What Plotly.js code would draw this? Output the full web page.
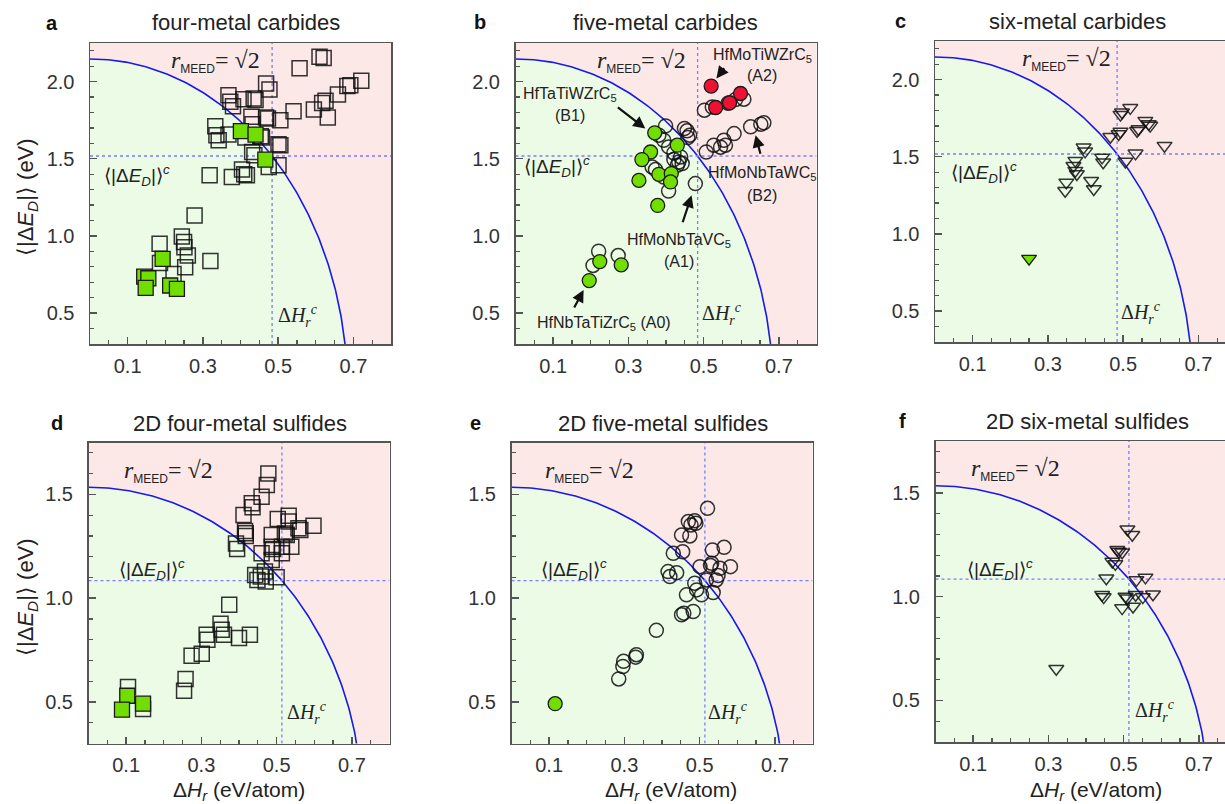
<!DOCTYPE html>
<html><head><meta charset="utf-8">
<script src="https://cdn.plot.ly/plotly-3.0.1.min.js"></script>
<style>html,body{margin:0;padding:0;overflow:hidden;background:#fff}</style>
</head><body><div id="chart" style="width:1240px;height:804px"></div>
<script>
// ---------- thresholds ----------
const carbideXc = 0.484, carbideYc = 1.518;
const sulfideXc = 0.514, sulfideYc = 1.085;
const rMEED = Math.SQRT2;

// ---------- panel titles ----------
const panelLetters = ['a','b','c','d','e','f'];
const panelTitles = ['four-metal carbides','five-metal carbides','six-metal carbides',
  '2D four-metal sulfides','2D five-metal sulfides','2D six-metal sulfides'];

// ---------- panel a : four-metal carbides (squares) ----------
const aOpenX = [0.610,0.621,0.557,0.468,0.477,0.368,0.373,0.380,0.408,0.435,0.440,0.429,0.432,0.468,0.473,0.506,0.541,0.595,0.617,0.626,0.632,0.659,0.684,0.692,0.721,0.333,0.336,0.342,0.368,0.413,0.454,0.457,0.431,0.437,0.501,0.506,0.501,0.475,0.318,0.377,0.404,0.410,0.417,0.278,0.185,0.186,0.244,0.250,0.251,0.260,0.222,0.253,0.320];
const aOpenY = [2.161,2.153,2.086,1.988,1.949,1.912,1.869,1.841,1.886,1.891,1.880,1.772,1.724,1.767,1.761,1.750,1.808,1.819,1.862,1.876,1.767,1.917,1.971,1.977,2.005,1.711,1.653,1.620,1.657,1.637,1.646,1.637,1.544,1.523,1.594,1.588,1.458,1.447,1.393,1.382,1.430,1.399,1.393,1.133,0.949,0.824,0.997,0.960,0.927,0.873,0.754,0.798,0.837];
const aGreenX = [0.401,0.440,0.466,0.193,0.144,0.155,0.148,0.213,0.231];
const aGreenY = [1.679,1.657,1.495,0.852,0.737,0.726,0.663,0.679,0.657];

// ---------- panel b : five-metal carbides (circles) ----------
const bOpenX = [0.502,0.523,0.585,0.607,0.565,
  0.507,0.527,0.554,0.558,0.581,0.625,0.652,0.660,0.545,
  0.399,0.449,0.456,0.463,0.458,0.381,0.394,0.407,0.421,0.439,0.434,0.443,0.363,0.394,0.407,0.478,0.430,0.421,0.372,
  0.221,0.206,0.273];
const bOpenY = [1.815,1.835,1.884,1.886,1.860,
  1.544,1.588,1.620,1.588,1.663,1.707,1.724,1.733,1.575,
  1.713,1.696,1.681,1.653,1.637,1.653,1.620,1.577,1.538,1.512,1.479,1.469,1.447,1.382,1.291,1.339,1.458,1.495,1.430,
  0.901,0.809,0.873];
const bRedX = [0.520,0.532,0.569,0.598];
const bRedY = [1.971,1.832,1.863,1.923];
const bGreenX = [0.370,0.430,0.359,0.336,0.328,0.381,0.414,0.412,0.378,0.196,0.224,0.281];
const bGreenY = [1.668,1.588,1.544,1.495,1.360,1.399,1.404,1.350,1.198,0.711,0.834,0.813];

// ---------- panel c : six-metal carbides (down triangles) ----------
const cOpenX = [0.519,0.497,0.493,0.559,0.568,0.572,0.541,0.537,0.493,0.488,0.466,0.610,0.533,0.506,0.395,0.399,0.444,0.447,0.373,0.368,0.373,0.377,0.349,0.346,0.415,0.422];
const cOpenY = [1.817,1.788,1.773,1.734,1.713,1.702,1.680,1.669,1.663,1.648,1.630,1.572,1.522,1.470,1.561,1.535,1.496,1.464,1.475,1.442,1.410,1.388,1.334,1.280,1.345,1.291];
const cGreenX = [0.250];
const cGreenY = [0.840];

// ---------- panel d : 2D four-metal sulfides (squares) ----------
const dOpenX = [0.478,0.474,0.460,0.434,0.436,0.412,0.416,0.418,0.418,0.392,0.395,0.503,0.532,0.532,0.558,0.563,0.598,0.522,0.527,0.487,0.487,0.490,0.514,0.539,0.460,0.487,0.514,0.443,0.449,0.469,0.471,0.500,0.458,0.374,0.351,0.354,0.314,0.316,0.360,0.400,0.429,0.274,0.301,0.258,0.254,0.105,0.145];
const dOpenY = [1.601,1.545,1.489,1.457,1.438,1.401,1.324,1.313,1.300,1.264,1.237,1.381,1.397,1.369,1.337,1.329,1.349,1.312,1.304,1.304,1.248,1.237,1.248,1.248,1.216,1.184,1.216,1.112,1.088,1.128,1.080,1.101,1.105,0.968,0.877,0.848,0.824,0.800,0.824,0.808,0.824,0.723,0.732,0.611,0.554,0.572,0.466];
const dGreenX = [0.103,0.089,0.145];
const dGreenY = [0.530,0.463,0.492];

// ---------- panel e : 2D five-metal sulfides (circles) ----------
const eOpenX = [0.521,0.470,0.477,0.487,0.490,0.452,0.474,0.430,0.455,0.534,0.565,0.532,0.529,0.501,0.582,0.554,0.416,0.421,0.439,0.518,0.549,0.544,0.487,0.492,0.505,0.465,0.536,0.452,0.458,0.483,0.385,0.332,0.330,0.298,0.296,0.285];
const eOpenY = [1.433,1.369,1.353,1.373,1.361,1.304,1.300,1.216,1.224,1.232,1.245,1.168,1.157,1.152,1.152,1.144,1.128,1.104,1.123,1.088,1.109,1.088,1.072,1.040,1.016,1.016,1.027,0.920,0.928,0.936,0.845,0.728,0.716,0.696,0.671,0.611];
const eGreenX = [0.116];
const eGreenY = [0.492];

// ---------- panel f : 2D six-metal sulfides (down triangles) ----------
const fOpenX = [0.510,0.523,0.483,0.487,0.496,0.470,0.478,0.454,0.558,0.534,0.443,0.447,0.505,0.510,0.532,0.551,0.578,0.496,0.525,0.321];
const fOpenY = [1.325,1.298,1.226,1.218,1.214,1.169,1.158,1.089,1.093,1.081,1.009,0.998,1.001,0.993,1.009,0.998,1.012,0.945,0.953,0.653];

// ---------- panel b labels ----------
const bLabels = [
  {t:'HfMoTiWZrC<sub>5</sub>', x:0.656, y:2.172},
  {t:'(A2)', x:0.656, y:2.042},
  {t:'HfTaTiWZrC<sub>5</sub>', x:0.146, y:1.919},
  {t:'(B1)', x:0.146, y:1.782},
  {t:'HfMoNbTaWC<sub>5</sub>', x:0.656, y:1.404},
  {t:'(B2)', x:0.656, y:1.263},
  {t:'HfMoNbTaVC<sub>5</sub>', x:0.434, y:0.971},
  {t:'(A1)', x:0.434, y:0.837},
  {t:'HfNbTaTiZrC<sub>5</sub> (A0)', x:0.234, y:0.434}
];
const bArrows = [ // tail (ax,ay) -> head (x,y)
  {ax:0.558, ay:2.096, x:0.534, y:2.020},
  {ax:0.268, ay:1.841, x:0.345, y:1.696},
  {ax:0.652, ay:1.523, x:0.638, y:1.653},
  {ax:0.443, ay:1.079, x:0.468, y:1.263},
  {ax:0.154, ay:0.527, x:0.181, y:0.650}
];

// ---------- layout geometry (pixels) ----------
const W = 1240, H = 804;
const geo = [
  {x0:90,  x1:391,  y0:43,  y1:344, tx:246,  ty:23,  lx:52},
  {x0:515.5,x1:816.5,y0:43, y1:344, tx:665,  ty:22,  lx:480},
  {x0:935, x1:1236, y0:41,  y1:342, tx:1077, ty:21,  lx:900},
  {x0:88.5,x1:389.5,y0:442.5,y1:743.5, tx:240, ty:423, lx:57},
  {x0:511.5,x1:812.5,y0:442.5,y1:743.5, tx:663, ty:423, lx:475},
  {x0:935.5,x1:1236.5,y0:441,y1:742, tx:1087, ty:421, lx:902}
];
const rLabelPos = [[0.209,2.13],[0.212,2.13],[0.226,2.13],[0.088,1.609],[0.083,1.609],[0.088,1.612]];
const edLabelPos = [[0.031,1.393],[0.017,1.447],[0.036,1.40],[0.075,1.136],[0.073,1.136],[0.079,1.131]];
const hLabelPos = [[0.495,0.484],[0.49,0.494],[0.488,0.491],[0.523,0.447],[0.518,0.447],[0.526,0.45]];

const GREEN = '#72de00', RED = '#ee1133', PINK = '#fde8e8', LGREEN = '#ebfbe6';
const SANS = 'Liberation Sans, Arial, sans-serif', SERIF = 'Liberation Serif, Times New Roman, serif';

const panels = [
  {sym:'square', sz:15, open:[aOpenX,aOpenY], fill:[[aGreenX,aGreenY,GREEN]], xc:carbideXc, yc:carbideYc, yr:[0.3,2.25], yt:[0.5,1.0,1.5,2.0]},
  {sym:'circle', sz:14, open:[bOpenX,bOpenY], fill:[[bGreenX,bGreenY,GREEN],[bRedX,bRedY,RED]], xc:carbideXc, yc:carbideYc, yr:[0.3,2.25], yt:[0.5,1.0,1.5,2.0]},
  {sym:'triangle-down', sz:13, open:[cOpenX,cOpenY], fill:[[cGreenX,cGreenY,GREEN]], xc:carbideXc, yc:carbideYc, yr:[0.3,2.25], yt:[0.5,1.0,1.5,2.0]},
  {sym:'square', sz:15, open:[dOpenX,dOpenY], fill:[[dGreenX,dGreenY,GREEN]], xc:sulfideXc, yc:sulfideYc, yr:[0.3,1.75], yt:[0.5,1.0,1.5]},
  {sym:'circle', sz:14, open:[eOpenX,eOpenY], fill:[[eGreenX,eGreenY,GREEN]], xc:sulfideXc, yc:sulfideYc, yr:[0.3,1.75], yt:[0.5,1.0,1.5]},
  {sym:'triangle-down', sz:13, open:[fOpenX,fOpenY], fill:[], xc:sulfideXc, yc:sulfideYc, yr:[0.3,1.75], yt:[0.5,1.0,1.5]}
];

const traces = [], annotations = [];
const layout = {
  width: W, height: H, margin:{l:0,r:0,t:0,b:0},
  paper_bgcolor:'#ffffff', plot_bgcolor: PINK, showlegend:false,
  font:{family:SANS, color:'#222'}
};

function axisStyle(){
  return {showgrid:false, zeroline:false, showline:true, linecolor:'#555', linewidth:1.5, mirror:true,
    ticks:'inside', ticklen:7, tickwidth:1.4, tickcolor:'#555',
    tickfont:{family:SANS, size:20, color:'#333'}, fixedrange:true};
}

panels.forEach((p, i) => {
  const n = i + 1, xa = 'x' + (n === 1 ? '' : n), ya = 'y' + (n === 1 ? '' : n);
  const g = geo[i];
  const X = Object.assign(axisStyle(), {
    domain:[g.x0/W, g.x1/W], range:[0,0.8], anchor:ya,
    tickvals:[0.1,0.3,0.5,0.7], ticktext:['0.1','0.3','0.5','0.7'],
    minor:{dtick:0.05, tick0:0, ticks:'inside', ticklen:4, tickcolor:'#555', tickwidth:1.2},
    ticklabelstandoff:3
  });
  const Y = Object.assign(axisStyle(), {
    domain:[1-g.y1/H, 1-g.y0/H], range:p.yr, anchor:xa,
    tickvals:p.yt, ticktext:p.yt.map(v=>v.toFixed(1)),
    minor:{dtick:0.1, tick0:0, ticks:'inside', ticklen:4, tickcolor:'#555', tickwidth:1.2},
    ticklabelstandoff:10
  });
  layout['xaxis' + (n === 1 ? '' : n)] = X;
  layout['yaxis' + (n === 1 ? '' : n)] = Y;

  // ellipse r_MEED = sqrt(2)
  const ex = [], ey = [];
  for (let k = 0; k <= 180; k++) {
    const t = Math.PI/2 * k/180;
    ex.push(rMEED*p.xc*Math.sin(t)); ey.push(rMEED*p.yc*Math.cos(t));
  }
  traces.push({x:ex, y:ey, xaxis:xa, yaxis:ya, mode:'lines', fill:'tozeroy', fillcolor:LGREEN,
    line:{color:'#1a1ae6', width:1.6}, hoverinfo:'skip'});
  // dotted critical lines
  traces.push({x:[p.xc,p.xc], y:p.yr, xaxis:xa, yaxis:ya, mode:'lines', line:{color:'#7b7bff', width:1.3, dash:'dot'}, hoverinfo:'skip'});
  traces.push({x:[0,0.8], y:[p.yc,p.yc], xaxis:xa, yaxis:ya, mode:'lines', line:{color:'#7b7bff', width:1.3, dash:'dot'}, hoverinfo:'skip'});
  // open markers
  traces.push({x:p.open[0], y:p.open[1], xaxis:xa, yaxis:ya, mode:'markers',
    marker:{symbol:p.sym, size:p.sz, color:'rgba(0,0,0,0)', line:{color:'rgba(15,15,15,0.85)', width:1.5}}});
  // filled markers
  p.fill.forEach(f => traces.push({x:f[0], y:f[1], xaxis:xa, yaxis:ya, mode:'markers',
    marker:{symbol:p.sym, size:p.sz, color:f[2], line:{color:'#1a1a1a', width:1.3}}}));

  // panel title and letter
  annotations.push({xref:'paper', yref:'paper', x:g.tx/W, y:1-g.ty/H, text:panelTitles[i], showarrow:false,
    xanchor:'center', yanchor:'middle', font:{family:SANS, size:22, color:'#222'}});
  annotations.push({xref:'paper', yref:'paper', x:g.lx/W, y:1-g.ty/H, text:'<b>'+panelLetters[i]+'</b>', showarrow:false,
    xanchor:'center', yanchor:'middle', font:{family:SANS, size:20, color:'#111'}});
  // r_MEED label
  annotations.push({xref:xa, yref:ya, x:rLabelPos[i][0], y:rLabelPos[i][1], xanchor:'left', yanchor:'middle', showarrow:false,
    text:'<i>r</i><sub><span style="font-family:Liberation Sans;font-size:12px">MEED</span></sub>= √2',
    font:{family:SERIF, size:24, color:'#222'}});
  // <|dE_D|>^c label
  annotations.push({xref:xa, yref:ya, x:edLabelPos[i][0], y:edLabelPos[i][1], xanchor:'left', yanchor:'middle', showarrow:false,
    text:'⟨|Δ<i>E</i><sub><i>D</i></sub>|⟩<sup><i>c</i></sup>', font:{family:SANS, size:19, color:'#222'}});
  // dH_r^c label
  annotations.push({xref:xa, yref:ya, x:hLabelPos[i][0], y:hLabelPos[i][1], xanchor:'left', yanchor:'middle', showarrow:false,
    text:'Δ<i>H</i><sub><i>r</i></sub><sup><i>c</i></sup>', font:{family:SERIF, size:20, color:'#222'}});
});

// panel b text labels and arrows
bLabels.forEach(l => annotations.push({xref:'x2', yref:'y2', x:l.x, y:l.y, text:l.t, showarrow:false,
  xanchor:'center', yanchor:'middle', font:{family:SANS, size:16, color:'#222'}}));
bArrows.forEach(a => annotations.push({xref:'x2', yref:'y2', axref:'x2', ayref:'y2', x:a.x, y:a.y, ax:a.ax, ay:a.ay,
  text:'', showarrow:true, arrowhead:2, arrowsize:1.1, arrowwidth:2.2, arrowcolor:'#111', standoff:0, startstandoff:0}));

// axis titles
const yTitle = '⟨|Δ<i>E</i><sub><i>D</i></sub>|⟩ (eV)';
const xTitle = 'Δ<i>H</i><sub><i>r</i></sub> (eV/atom)';
[[27,197],[27,597]].forEach(q => annotations.push({xref:'paper', yref:'paper', x:q[0]/W, y:1-q[1]/H, text:yTitle,
  textangle:-90, showarrow:false, xanchor:'center', yanchor:'middle', font:{family:SANS, size:22, color:'#222'}}));
[239,671,1096].forEach(cx => annotations.push({xref:'paper', yref:'paper', x:cx/W, y:1-790.5/H, text:xTitle,
  showarrow:false, xanchor:'center', yanchor:'middle', font:{family:SANS, size:21, color:'#222'}}));

layout.annotations = annotations;
Plotly.newPlot('chart', traces, layout, {staticPlot:true, displayModeBar:false});
</script></body></html>
